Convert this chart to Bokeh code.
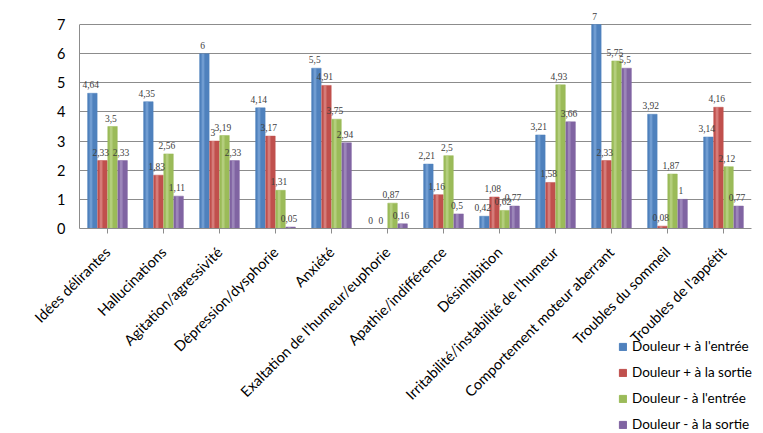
from bokeh.plotting import figure
from bokeh.models import (FactorRange, Range1d, ColumnDataSource, LabelSet, Legend, LegendItem,
                          FixedTicker, GridBox)
from bokeh.transform import dodge
from bokeh.embed import file_html
from bokeh.resources import INLINE
import math

categories = ["Idées délirantes", "Hallucinations", "Agitation/agressivité", "Dépression/dysphorie",
              "Anxiété", "Exaltation de l'humeur/euphorie", "Apathie/indifférence", "Désinhibition",
              "Irritabilité/instabilité de l'humeur", "Comportement moteur aberrant",
              "Troubles du sommeil", "Troubles de l'appétit"]
series_names = ["Douleur + à l'entrée", "Douleur + à la sortie", "Douleur - à l'entrée", "Douleur - à la sortie"]
pos_entree = [4.64, 4.35, 6, 4.14, 5.5, 0, 2.21, 0.42, 3.21, 7, 3.92, 3.14]
pos_sortie = [2.33, 1.83, 3, 3.17, 4.91, 0, 1.16, 1.08, 1.58, 2.33, 0.08, 4.16]
neg_entree = [3.5, 2.56, 3.19, 1.31, 3.75, 0.87, 2.5, 0.62, 4.93, 5.75, 1.87, 2.12]
neg_sortie = [2.33, 1.11, 2.33, 0.05, 2.94, 0.16, 0.5, 0.77, 3.66, 5.5, 1, 0.77]
y_ticks = [0, 1, 2, 3, 4, 5, 6, 7]

series = [pos_entree, pos_sortie, neg_entree, neg_sortie]
colors = ["#4F81BD", "#C0504D", "#9BBB59", "#8064A2"]
highlights = ["#8DB3E2", "#E6A09E", "#C9DE9A", "#B3A2CC"]
offsets = [-0.27, -0.09, 0.09, 0.27]
FONT = "Lato"

W, H = 763, 433
LEFT, RIGHT = 79, 12
ZERO_Y = 228
PX_PER_UNIT = 204 / 7
y_top = ZERO_Y / PX_PER_UNIT   # frame reaches the canvas top so the "7" label is not clipped

p = figure(width=W, height=H, output_backend="svg", toolbar_location=None,
           x_range=FactorRange(factors=categories, range_padding=0), y_range=Range1d(0, y_top))
p.min_border_left = LEFT
p.min_border_right = RIGHT
p.min_border_top = 0
p.min_border_bottom = H - ZERO_Y
p.outline_line_color = None
p.background_fill_color = "white"
p.border_fill_color = "white"

p.xgrid.grid_line_color = None
p.ygrid.grid_line_color = "#8C8C8C"
p.ygrid.grid_line_width = 1.2
p.ygrid.ticker = FixedTicker(ticks=y_ticks)
p.yaxis.ticker = FixedTicker(ticks=y_ticks)
p.yaxis.bounds = (0, 7)
p.yaxis.major_label_text_font = FONT
p.yaxis.major_label_text_font_size = "14.5px"
p.yaxis.major_label_text_color = "#000000"
p.yaxis.major_tick_out = 0
p.yaxis.major_tick_in = 0
p.yaxis.minor_tick_out = 0
p.yaxis.minor_tick_in = 0
p.yaxis.major_label_standoff = 14
p.yaxis.axis_line_color = "#8C8C8C"

p.xaxis.major_label_orientation = math.pi / 4
p.xaxis.major_label_text_font = FONT
p.xaxis.major_label_text_font_size = "14.5px"
p.xaxis.major_label_text_color = "#000000"
p.xaxis.major_tick_out = 5
p.xaxis.major_tick_in = 0
p.xaxis.major_tick_line_color = "#8C8C8C"
p.xaxis.axis_line_color = "#8C8C8C"
p.xaxis.major_label_standoff = 16

for name, vals, col, hl, off in zip(series_names, series, colors, highlights, offsets):
    labels = [f"{v:g}".replace(".", ",") for v in vals]
    src = ColumnDataSource(dict(cat=categories, val=vals, lab=labels))
    p.vbar(x=dodge("cat", off, range=p.x_range), top="val", width=0.17, source=src,
           fill_color=col, line_color=col, line_width=0.5)
    p.vbar(x=dodge("cat", off - 0.025, range=p.x_range), top="val", width=0.05, source=src,
           fill_color=hl, fill_alpha=0.55, line_color=None)
    lbl = LabelSet(x=dodge("cat", off - 0.03, range=p.x_range), y="val", text="lab", source=src,
                   text_align="center", text_baseline="bottom", y_offset=5,
                   text_font=FONT, text_font_size="9.5px", text_color="#404040")
    p.add_layout(lbl)

# transparent overlay figure holding the legend (bottom-right, outside the main plot frame);
# its frame is not aligned with the main plot, so it covers the whole canvas
q = figure(width=W, height=H, output_backend="svg", toolbar_location=None,
           x_range=Range1d(0, 1), y_range=Range1d(0, 1),
           x_axis_location=None, y_axis_location=None)
q.frame_align = False
q.min_border_left = 0
q.min_border_right = 0
q.min_border_top = 0
q.min_border_bottom = 0
q.grid.visible = False
q.outline_line_color = None
q.background_fill_color = None
q.border_fill_color = None
items = []
for name, col in zip(series_names, colors):
    # legend swatch source: one off-screen placeholder so the swatch gets drawn
    r = q.vbar(x=[-5], top=[-5], bottom=[-6], width=0.1, fill_color=col, line_color=col)
    items.append(LegendItem(label=name, renderers=[r]))
legend = Legend(items=items, location=(618, 0), orientation="vertical",
                glyph_width=9, glyph_height=9, label_height=18, spacing=8,
                label_text_font=FONT, label_text_font_size="13.5px", label_text_color="#000000",
                label_standoff=5, padding=0, margin=0,
                border_line_color=None, background_fill_alpha=0)
q.add_layout(legend, "center")

layout = GridBox(children=[(p, 0, 0), (q, 0, 0)])
open("out.html", "w").write(file_html(layout, INLINE))
